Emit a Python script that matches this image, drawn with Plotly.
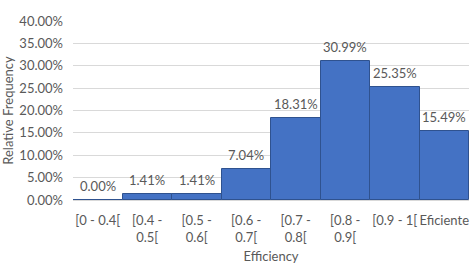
import plotly.graph_objects as go

categories = ["[0 - 0.4[", "[0.4 -<br>0.5[", "[0.5 -<br>0.6[", "[0.6 -<br>0.7[",
              "[0.7 -<br>0.8[", "[0.8 -<br>0.9[", "[0.9 - 1[", "Eficiente"]
values = [0.0, 1.41, 1.41, 7.04, 18.31, 30.99, 25.35, 15.49]
labels = ["0.00%", "1.41%", "1.41%", "7.04%", "18.31%", "30.99%", "25.35%", "15.49%"]
y_ticks = [0, 5, 10, 15, 20, 25, 30, 35, 40]
y_tick_text = ["%.2f%%" % v for v in y_ticks]

FONT = "Lato, 'Open Sans', sans-serif"
GREY = "#595959"
FS = 13

fig = go.Figure()
fig.add_trace(go.Bar(
    x=categories, y=values,
    marker=dict(color="#4472C4", line=dict(color="#2F528F", width=1)),
    width=1.0,
))
for c, v, t in zip(categories, values, labels):
    fig.add_annotation(x=c, y=v, text=t, showarrow=False, yanchor="middle", yshift=14,
                       font=dict(family=FONT, size=FS, color=GREY))

fig.update_layout(
    width=476, height=266,
    margin=dict(l=73, r=7, t=21, b=66),
    paper_bgcolor="white", plot_bgcolor="white",
    bargap=0, showlegend=False,
    font=dict(family=FONT, size=FS, color=GREY),
)
fig.update_yaxes(
    range=[0, 40], tickvals=y_ticks, ticktext=y_tick_text, automargin=False,
    showgrid=True, gridcolor="#D9D9D9", gridwidth=1, zeroline=False,
    showline=False, ticks="", ticklabelstandoff=9,
    title=dict(text="Relative Frequency", font=dict(family=FONT, size=FS, color=GREY), standoff=2),
    tickfont=dict(family=FONT, size=FS, color=GREY),
)
fig.update_xaxes(
    showline=True, linecolor="#D9D9D9", linewidth=1, ticks="", automargin=False,
    tickfont=dict(family=FONT, size=FS, color=GREY), tickangle=0, ticklabelstandoff=8,
    title=dict(text="Efficiency", font=dict(family=FONT, size=FS, color=GREY), standoff=8),
)
fig.write_html("out.html")
